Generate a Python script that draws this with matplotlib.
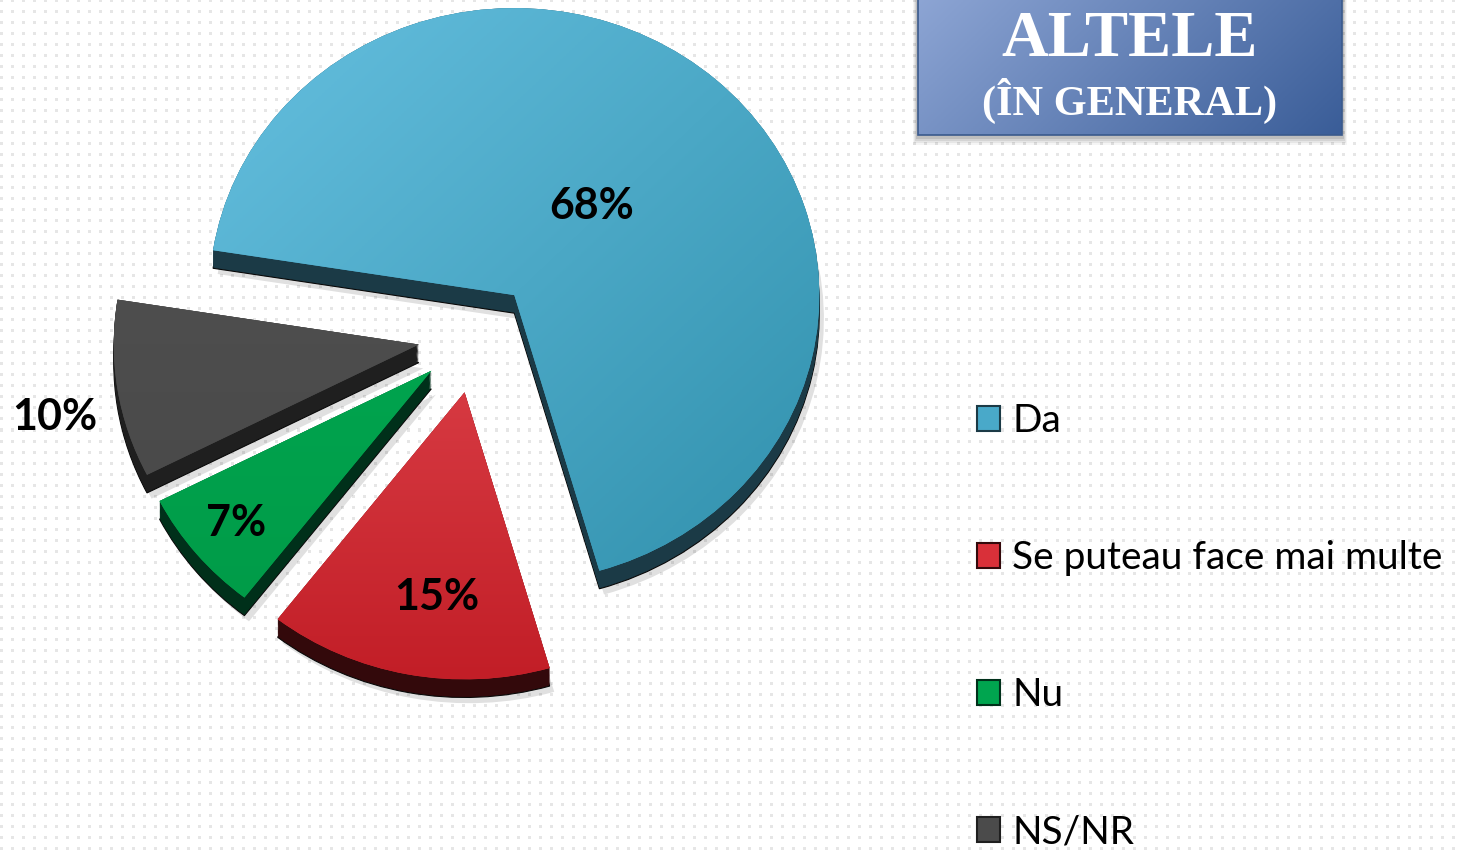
import numpy as np
import matplotlib.pyplot as plt
from matplotlib.patches import Patch, Rectangle
from matplotlib.colors import to_rgb

# date
labels = ['Da', 'Se puteau face mai multe', 'Nu', 'NS/NR']
values = [68, 15, 7, 10]
pct_labels = ['68%', '15%', '7%', '10%']

# stil
top_light = ['#66c0e0', '#eb555c', '#00ad55', '#535353']
top_dark = ['#3090ac', '#c21e27', '#009a47', '#474747']
top_mid = ['#49a9c9', '#d93039', '#00a54f', '#4b4b4b']
side_cols = ['#1b3a46', '#33090b', '#00301a', '#1f1f1f']
explode = [0.19, 0.2, 0.19, 0.19]
label_r = [0.40, 0.72, 0.83, 1.22]
label_dt = [2.0, 3.5, 0.0, 3.0]

W, H = 1457, 855
fig = plt.figure(figsize=(W / 100, H / 100), dpi=100)

# fundal cu puncte
bg = fig.add_axes([0, 0, 1, 1])
bg.set_axis_off()
yy, xx = np.mgrid[0:H, 0:W]
dots = ((xx % 11) < 3) & ((yy % 11) < 3)
tex = np.where(dots, 0.9, 1.0)
bg.imshow(tex, cmap='gray', vmin=0, vmax=1, extent=(0, W, H, 0),
          aspect='auto', interpolation='nearest', zorder=0)

# caseta titlu
for k, a in enumerate([0.10, 0.08, 0.06, 0.04]):
    bg.add_patch(Rectangle((916 - k, -3), 428 + 2 * k, 142 + 2 * k,
                           facecolor='black', alpha=a, lw=0, zorder=1))
gx = np.linspace(0, 1, 200)
gy = np.linspace(0, 1, 60)
GX, GY = np.meshgrid(gx, gy)
t = np.clip(0.75 * GX + 0.25 * GY, 0, 1)[..., None]
img = np.array(to_rgb('#8da5d4')) * (1 - t) + np.array(to_rgb('#3a5d98')) * t
bg.imshow(img, extent=(918, 1342, 135, -3), aspect='auto', zorder=2)
bg.add_patch(Rectangle((918, -3), 424, 138, fill=False,
                       edgecolor='#3a5a8c', lw=1.2, zorder=3))
bg.text(1130, 40, 'ALTELE', color='white', fontsize=46.5, fontweight='bold',
        family='Liberation Serif', ha='center', va='center', zorder=4)
bg.text(1130, 101, '(ÎN GENERAL)', color='white', fontsize=30.5, fontweight='bold',
        family='Liberation Serif', ha='center', va='center', zorder=4)
bg.set_xlim(0, W)
bg.set_ylim(H, 0)

# pie
ax = fig.add_axes([0, 0, 1, 1])
ax.set_axis_off()
ax.patch.set_alpha(0)

depth = 0.063
nl = 16
# umbra
ax.pie(values, explode=explode, startangle=171, counterclock=False,
       colors=['black'] * 4, center=(0.015, -depth - 0.02),
       wedgeprops=dict(linewidth=0, alpha=0.12, zorder=1))
for k in range(nl + 1):
    off = -depth * (nl - k) / nl
    ax.pie(values, explode=explode, startangle=171, counterclock=False,
           colors=side_cols, center=(0, off),
           wedgeprops=dict(linewidth=0.8 if k == 0 else 0,
                           edgecolor='#080808', zorder=2))

wedges, _ = ax.pie(values, explode=explode, startangle=171, counterclock=False,
                   colors=top_mid, wedgeprops=dict(linewidth=0, zorder=3))

n = 200
X, Y = np.meshgrid(np.linspace(0, 1, n), np.linspace(0, 1, n))
for i, w in enumerate(wedges):
    cx, cy = w.center
    r = w.r
    if i == 0:
        tt = (X + Y) / 2
    else:
        tt = Y
    tt = tt[..., None]
    g = np.array(to_rgb(top_light[i])) * (1 - tt) + np.array(to_rgb(top_dark[i])) * tt
    im = ax.imshow(g, extent=(cx - r, cx + r, cy - r, cy + r), origin='upper',
                   aspect='auto', zorder=3.5)
    im.set_clip_path(w)

    mid = np.deg2rad((w.theta1 + w.theta2) / 2 + label_dt[i])
    ax.text(cx + label_r[i] * np.cos(mid), cy + label_r[i] * np.sin(mid),
            pct_labels[i], ha='center', va='center', fontsize=31,
            fontweight='bold', family='Lato', color='black', zorder=6)

ax.set_aspect('auto')
ax.set_xlim(-476 / 305, (W - 476) / 305)
ax.set_ylim((336 - H) / 287, 336 / 287)

# legenda
handles = [Patch(facecolor=top_mid[i], edgecolor=side_cols[i], linewidth=1.5)
           for i in range(len(labels))]
fig.legend(handles, labels, loc='upper left', bbox_to_anchor=(977 / W, 1 - 403 / H),
           frameon=False, prop={'family': 'Lato', 'size': 28},
           handlelength=0.6, handleheight=0.6, handletextpad=0.3,
           labelspacing=2.6, borderpad=0, borderaxespad=0)

fig.savefig('out.png', dpi=100)
